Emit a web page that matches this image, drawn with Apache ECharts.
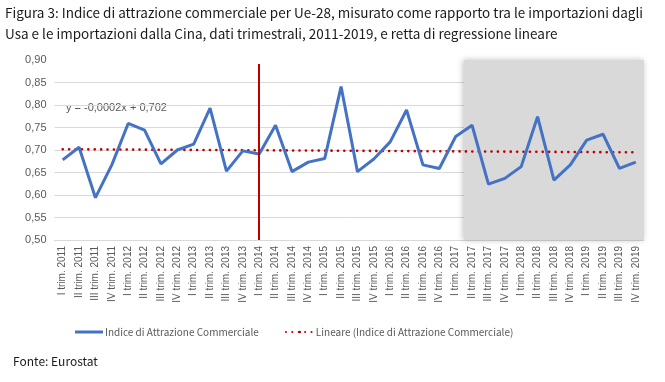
<!DOCTYPE html>
<html><head><meta charset="utf-8">
<script src="https://cdn.jsdelivr.net/npm/echarts@6/dist/echarts.min.js"></script>
<style>html,body{margin:0;padding:0;background:#fff}#c{width:665px;height:382px}</style>
</head><body><div id="c"></div>
<script>
const categories = [
 'I trim. 2011','II trim. 2011','III trim. 2011','IV trim. 2011',
 'I trim. 2012','II trim. 2012','III trim. 2012','IV trim. 2012',
 'I trim. 2013','II trim. 2013','III trim. 2013','IV trim. 2013',
 'I trim. 2014','II trim. 2014','III trim. 2014','IV trim. 2014',
 'I trim. 2015','II trim. 2015','III trim. 2015','IV trim. 2015',
 'I trim. 2016','II trim. 2016','III trim. 2016','IV trim. 2016',
 'I trim. 2017','II trim. 2017','III trim. 2017','IV trim. 2017',
 'I trim. 2018','II trim. 2018','III trim. 2018','IV trim. 2018',
 'I trim. 2019','II trim. 2019','III trim. 2019','IV trim. 2019'
];
const indiceValues = [
 0.678, 0.706, 0.594, 0.667,
 0.759, 0.744, 0.669, 0.700,
 0.713, 0.793, 0.653, 0.698,
 0.691, 0.755, 0.652, 0.673,
 0.681, 0.841, 0.652, 0.680,
 0.718, 0.789, 0.667, 0.659,
 0.730, 0.755, 0.624, 0.637,
 0.663, 0.774, 0.633, 0.667,
 0.722, 0.735, 0.659, 0.673
];
const yTicks = [0.50, 0.55, 0.60, 0.65, 0.70, 0.75, 0.80, 0.85, 0.90];
// regression shown on the chart: y = -0,0002x + 0,702
const trendSlope = -0.0002;
const trendIntercept = 0.702;
const markerCategory = 'I trim. 2014';
const shadedFromCategory = 'II trim. 2017';
const markerTop = 0.891;

const n = categories.length;
const trendData = [[0, trendIntercept + trendSlope * 1], [n - 1, trendIntercept + trendSlope * n]];
const markerIdx = categories.indexOf(markerCategory);
const shadeIdx = categories.indexOf(shadedFromCategory);

const FONT = "'Noto Sans CJK JP', sans-serif";
const chart = echarts.init(document.getElementById('c'));
const gridColors = yTicks.map((v, i) => i === yTicks.length - 1 ? 'rgba(0,0,0,0)' : '#d9d9d9');
chart.setOption({
  animation: false,
  textStyle: { fontFamily: FONT },
  title: [{
    text: 'Figura 3: Indice di attrazione commerciale per Ue-28, misurato come rapporto tra le importazioni dagli\nUsa e le importazioni dalla Cina, dati trimestrali, 2011-2019, e retta di regressione lineare',
    left: 5, top: 2, padding: 0,
    textStyle: { fontSize: 13.5, fontWeight: 'normal', color: '#1a1a1a', lineHeight: 21, fontFamily: FONT }
  }, {
    text: 'Fonte: Eurostat', left: 13, top: 355, padding: 0,
    textStyle: { fontSize: 12, fontWeight: 'normal', color: '#1a1a1a', fontFamily: FONT }
  }],
  grid: { left: 54.5, right: 21, top: 60, bottom: 142 },
  legend: {
    top: 322, left: 70,
    itemWidth: 28, itemHeight: 3, itemGap: 26,
    textStyle: { fontSize: 10, color: '#595959', fontFamily: FONT, padding: [0, 0, 0, -3] },
    data: [
      { name: 'Indice di Attrazione Commerciale', icon: 'rect' },
      { name: 'Lineare (Indice di Attrazione Commerciale)' }
    ]
  },
  xAxis: [{
    type: 'category', data: categories, boundaryGap: true,
    axisLine: { lineStyle: { color: '#d9d9d9', width: 1 } },
    axisTick: { show: false },
    axisLabel: { rotate: 90, interval: 0, fontSize: 10, color: '#595959', margin: 6, fontFamily: 'Liberation Sans' }
  }, {
    type: 'value', min: -0.5, max: n - 0.5, show: false
  }],
  yAxis: {
    type: 'value', min: 0.5, max: 0.9, interval: 0.05,
    axisLine: { show: false }, axisTick: { show: false },
    axisLabel: { fontSize: 11, color: '#595959', margin: 8, fontFamily: 'Liberation Sans',
      formatter: v => v.toFixed(2).replace('.', ',') },
    splitLine: { lineStyle: { color: gridColors, width: 1 } }
  },
  series: [{
    name: 'shade', type: 'line', xAxisIndex: 1, data: [], z: 1, silent: true,
    markArea: {
      silent: true,
      itemStyle: { color: '#d9d9d9', shadowColor: 'rgba(0,0,0,0.25)', shadowBlur: 6, shadowOffsetX: -1 },
      data: [[{ xAxis: shadeIdx - 0.5, yAxis: 0.5 }, { xAxis: n - 0.5, yAxis: 0.9 }]]
    },
    markLine: {
      silent: true, symbol: 'none', label: { show: false },
      lineStyle: { color: '#c00000', width: 2, type: 'solid' },
      data: [[{ coord: [markerIdx, 0.5] }, { coord: [markerIdx, markerTop] }]]
    }
  }, {
    name: 'Lineare (Indice di Attrazione Commerciale)', type: 'line', xAxisIndex: 1,
    data: trendData, symbol: 'none', z: 3,
    lineStyle: { color: '#c00000', width: 2.6, type: [0.1, 6.3], cap: 'round' },
    itemStyle: { color: '#c00000' }
  }, {
    name: 'Indice di Attrazione Commerciale', type: 'line', data: indiceValues,
    symbol: 'none', z: 4,
    lineStyle: { color: '#4472c4', width: 3 },
    itemStyle: { color: '#4472c4' }
  }],
  graphic: [{
    type: 'text', left: 66, top: 102,
    style: { text: 'y = -0,0002x + 0,702', fontSize: 11, fill: '#595959', fontFamily: 'Liberation Sans' }
  }]
});
</script></body></html>
